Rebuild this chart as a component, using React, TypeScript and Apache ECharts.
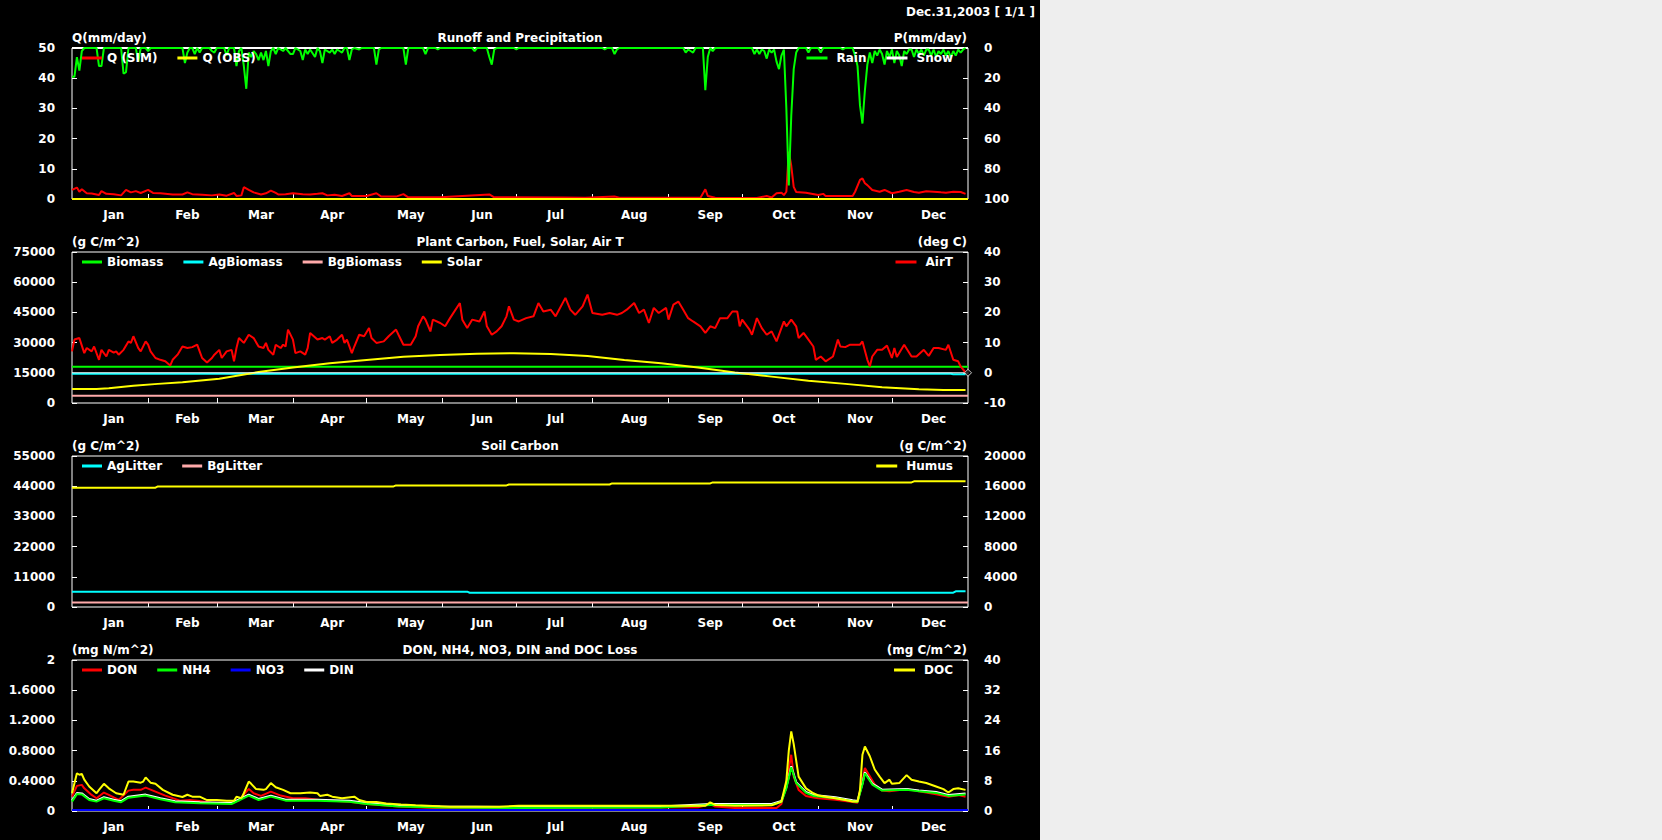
import React, { useEffect, useRef } from "react";
import * as echarts from "echarts";

const FONT = '"DejaVu Sans", "Liberation Sans", Arial, sans-serif';

// ---------- axis / label data ----------
const months = ["Jan", "Feb", "Mar", "Apr", "May", "Jun", "Jul", "Aug", "Sep", "Oct", "Nov", "Dec"];
const monthTickDays = [31, 59, 90, 120, 151, 181, 212, 243, 273, 304, 334];
const monthLabelDays = [17, 47, 77, 106, 138, 167, 197, 229, 260, 290, 321, 351];
const dayCategories = Array.from({ length: 366 }, (_, i) => String(i));

const headerText = "Dec.31,2003 [ 1/1 ]";
const panelTitles = [
  "Runoff and Precipitation",
  "Plant Carbon, Fuel, Solar, Air T",
  "Soil Carbon",
  "DON, NH4, NO3, DIN and DOC Loss",
];
const leftUnits = ["Q(mm/day)", "(g C/m^2)", "(g C/m^2)", "(mg N/m^2)"];
const rightUnits = ["P(mm/day)", "(deg C)", "(g C/m^2)", "(mg C/m^2)"];

// ---------- panel 1: runoff & precipitation ----------
const qSim: number[][] = [
  [0, 3.0], [2, 3.8], [3, 2.4], [4, 3.2], [6, 1.9], [8, 1.8], [11, 1.3], [12, 2.6], [14, 1.7], [17, 1.6],
  [20, 1.2], [22, 3.0], [24, 2.2], [26, 2.6], [28, 2.0], [31, 3.0], [33, 2.0], [36, 1.9], [41, 1.5], [45, 1.5],
  [47, 2.2], [49, 1.6], [53, 1.4], [57, 1.2], [60, 1.5], [63, 1.1], [66, 2.0], [67, 1.0], [69, 1.2], [70, 3.9],
  [72, 3.0], [74, 2.2], [77, 1.5], [79, 1.9], [81, 2.8], [83, 2.0], [84, 1.5], [87, 1.6], [90, 1.9], [94, 1.6],
  [97, 1.5], [100, 1.7], [102, 1.9], [104, 1.2], [107, 1.4], [110, 1.0], [113, 1.9], [114, 1.0], [120, 1.0],
  [124, 1.9], [126, 0.8], [132, 0.8], [135, 1.6], [137, 0.55], [150, 0.55], [170, 1.5], [172, 0.55], [200, 0.5],
  [209, 0.45], [221, 0.8], [223, 0.45], [250, 0.45], [256, 0.45], [258, 3.2], [259, 1.0], [262, 0.4], [279, 0.3],
  [283, 1.0], [285, 0.5], [287, 1.9], [289, 2.1], [290, 1.3], [291, 2.4], [292, 15.7], [293, 11.0], [294, 4.0],
  [295, 2.3], [299, 2.1], [304, 1.3], [306, 1.7], [307, 1.0], [318, 1.0], [319, 2.4], [321, 6.3], [322, 6.8],
  [323, 5.2], [324, 4.6], [326, 3.0], [329, 2.4], [331, 3.0], [334, 1.9], [337, 2.4], [340, 3.0], [343, 2.3],
  [345, 2.1], [348, 2.6], [351, 2.4], [354, 2.2], [356, 2.1], [359, 2.4], [362, 2.3], [364, 1.7],
];
const qObs: number[][] = [[0, 0], [365, 0]];
const rain: number[][] = [
  [0, 19], [1, 19], [2, 6], [3, 15], [4, 2], [5, 0], [10, 0], [11, 12], [12, 12], [13, 0], [20, 0], [21, 17],
  [22, 16], [23, 0], [26, 0], [27, 9], [28, 0], [30, 0], [31, 2], [32, 0], [45, 0], [46, 10], [47, 3], [48, 0],
  [49, 0], [50, 4], [51, 0], [52, 3], [53, 0], [56, 0], [57, 2], [58, 3], [59, 0], [62, 0], [63, 5], [64, 0],
  [66, 0], [67, 12], [68, 2], [69, 0], [70, 12], [71, 27], [72, 3], [73, 6], [74, 2], [75, 4], [76, 8], [77, 3],
  [78, 8], [79, 2], [80, 12], [81, 2], [82, 0], [83, 4], [84, 0], [86, 2], [87, 0], [89, 4], [90, 4], [91, 0],
  [93, 2], [94, 8], [95, 1], [96, 4], [97, 1], [99, 6], [100, 0], [101, 2], [102, 10], [103, 1], [105, 3],
  [106, 1], [107, 4], [108, 1], [109, 2], [110, 3], [111, 0], [112, 0], [113, 8], [114, 1], [115, 0], [117, 1],
  [118, 0], [123, 0], [124, 11], [125, 1], [126, 0], [135, 0], [136, 11], [137, 0], [143, 0], [144, 4], [145, 0],
  [148, 0], [149, 1], [150, 0], [163, 0], [164, 2], [165, 0], [169, 0], [170, 6], [171, 11], [172, 1], [173, 0],
  [180, 0], [181, 1], [182, 0], [216, 0], [217, 1], [218, 0], [220, 0], [221, 4], [222, 1], [223, 0], [249, 0],
  [250, 3], [251, 1], [252, 2], [253, 3], [254, 0], [257, 0], [258, 28], [259, 6], [260, 0], [261, 2], [262, 0],
  [277, 0], [278, 4], [279, 1], [280, 4], [281, 1], [282, 2], [283, 7], [284, 1], [285, 3], [286, 1], [287, 9],
  [288, 14], [289, 5], [290, 1], [291, 40], [292, 91], [293, 45], [294, 14], [295, 3], [296, 0], [299, 0],
  [300, 3], [301, 0], [304, 0], [305, 3], [306, 0], [313, 0], [314, 1], [315, 0], [318, 0], [319, 5], [320, 12],
  [321, 38], [322, 50], [323, 28], [324, 11], [325, 3], [326, 10], [327, 2], [328, 5], [329, 1], [330, 4],
  [331, 11], [332, 2], [333, 6], [334, 1], [335, 10], [336, 2], [337, 5], [338, 12], [339, 2], [340, 4], [341, 1],
  [342, 1], [343, 6], [344, 1], [345, 4], [346, 1], [347, 5], [348, 1], [349, 1], [350, 5], [351, 1], [352, 6],
  [353, 2], [354, 4], [355, 1], [356, 5], [357, 2], [358, 6], [359, 2], [360, 5], [361, 1], [362, 3], [363, 1],
  [364, 0],
];
const snow: number[][] = [[0, 0], [365, 0]];

// ---------- panel 2: plant carbon, solar, air T ----------
const biomass: number[][] = [[0, 18000], [365, 18000]];
const agBiomass: number[][] = [[0, 14530], [358, 14530], [359, 14300], [364, 14300]];
const bgBiomass: number[][] = [[0, 3650], [365, 3650]];
const solar: number[][] = [
  [0, 7000], [10, 7000], [15, 7300], [25, 8600], [35, 9500], [45, 10300], [60, 12000], [76, 15400], [90, 17600],
  [105, 19700], [120, 21400], [135, 23000], [150, 23900], [165, 24500], [180, 24700], [195, 24300], [210, 23400],
  [225, 21400], [240, 19700], [255, 17600], [270, 15100], [285, 13100], [300, 11100], [315, 9500], [330, 7800],
  [345, 6800], [355, 6500], [364, 6500],
];
const airZero: number[][] = [[0, 0], [365, 0]];
const airEndMarker: number[][] = [[365, 0]];
const airT: number[][] = [
  [0, 7.1], [1, 11], [3, 11.5], [5, 6.5], [6, 8.2], [8, 7.1], [9, 8.7], [11, 4.3], [12, 7.6], [14, 5.4], [15, 7.6],
  [17, 6.7], [18, 7.1], [19, 6.0], [21, 7.6], [23, 10.4], [24, 9.9], [25, 12.1], [27, 8.2], [28, 7.1], [30, 10.4],
  [31, 9.3], [32, 7.1], [34, 4.9], [36, 4.3], [38, 3.8], [40, 2.4], [41, 4.3], [43, 6.0], [45, 8.7], [47, 8.2],
  [49, 8.5], [51, 9.3], [52, 7.1], [53, 4.9], [55, 3.4], [57, 4.9], [58, 6.0], [60, 7.6], [61, 4.9], [63, 7.1],
  [65, 7.6], [66, 3.8], [67, 8.2], [68, 11.5], [70, 9.9], [72, 12.6], [74, 11.5], [76, 8.7], [78, 8.2], [79, 9.9],
  [80, 7.6], [82, 6.0], [83, 9.3], [85, 8.2], [86, 9.3], [87, 8.7], [88, 14.3], [90, 11.0], [91, 6.5], [93, 7.1],
  [95, 6.0], [96, 8.2], [97, 13.2], [100, 11.0], [102, 11.5], [103, 11.0], [105, 12.1], [106, 9.9], [108, 11.0],
  [110, 12.6], [111, 9.9], [112, 11.0], [114, 6.5], [115, 8.7], [117, 12.6], [119, 12.1], [121, 14.8],
  [122, 11.5], [124, 9.9], [127, 10.4], [129, 12.1], [132, 14.3], [133, 12.6], [135, 9.3], [138, 9.3],
  [140, 12.1], [141, 15.4], [143, 18.7], [144, 17.6], [146, 13.7], [147, 17.6], [150, 16.5], [152, 15.4],
  [154, 18.1], [158, 23.1], [159, 17.6], [161, 14.8], [163, 17.6], [166, 17.0], [168, 20.3], [169, 15.4],
  [171, 12.6], [173, 13.7], [175, 15.4], [177, 18.7], [178, 22.0], [180, 17.6], [182, 17.0], [185, 18.1],
  [188, 18.7], [190, 23.1], [192, 20.3], [195, 20.9], [197, 18.7], [201, 24.8], [203, 20.9], [205, 19.2],
  [208, 22.0], [210, 25.9], [212, 19.8], [216, 19.2], [219, 19.8], [222, 19.2], [224, 19.8], [226, 20.9],
  [229, 23.1], [231, 19.8], [233, 20.9], [235, 16.5], [237, 21.5], [239, 19.8], [242, 21.5], [243, 17.6],
  [245, 22.6], [247, 23.6], [249, 20.9], [251, 18.1], [253, 17.0], [256, 15.4], [258, 13.2], [260, 15.4],
  [262, 14.8], [264, 18.1], [267, 18.1], [269, 20.3], [271, 20.3], [272, 15.4], [273, 17.6], [276, 14.3],
  [277, 12.6], [279, 18.1], [281, 14.8], [283, 12.6], [285, 13.7], [287, 10.4], [290, 17.0], [291, 15.4],
  [293, 17.6], [295, 15.4], [296, 11.5], [298, 13.2], [300, 11.0], [302, 8.7], [303, 4.3], [305, 5.4],
  [307, 3.8], [310, 5.4], [312, 11.0], [313, 8.7], [315, 8.5], [317, 9.3], [321, 9.3], [322, 10.4], [324, 4.3],
  [325, 2.1], [326, 5.4], [328, 7.6], [330, 7.6], [332, 9.0], [334, 4.9], [335, 8.2], [336, 5.2], [339, 9.3],
  [342, 5.4], [344, 5.4], [347, 7.6], [349, 5.6], [351, 8.2], [353, 8.2], [356, 7.6], [357, 9.3], [359, 4.3],
  [361, 3.8], [362, 2.1], [364, 0.1],
];

// ---------- panel 3: soil carbon ----------
const agLitter: number[][] = [[0, 5600], [161, 5600], [162, 5200], [359, 5200], [360, 5700], [364, 5700]];
const bgLitter: number[][] = [[0, 1680], [365, 1680]];
const humus: number[][] = [
  [0, 15800], [34, 15800], [35, 15970], [131, 15970], [132, 16100], [177, 16100], [178, 16230], [219, 16230],
  [220, 16370], [260, 16370], [261, 16500], [342, 16500], [343, 16640], [364, 16640],
];

// ---------- panel 4: DON, NH4, NO3, DIN, DOC ----------
const don: number[][] = [
  [0, 0.19], [2, 0.333], [4, 0.346], [5, 0.3], [8, 0.213], [10, 0.169], [13, 0.244], [15, 0.213], [19, 0.146],
  [23, 0.27], [25, 0.28], [28, 0.28], [30, 0.31], [34, 0.257], [38, 0.204], [44, 0.137], [48, 0.146], [52, 0.133],
  [57, 0.11], [65, 0.11], [68, 0.137], [72, 0.293], [74, 0.235], [77, 0.2], [81, 0.257], [85, 0.204], [90, 0.169],
  [95, 0.169], [101, 0.146], [106, 0.137], [113, 0.124], [120, 0.093], [133, 0.058], [147, 0.04], [174, 0.035],
  [182, 0.04], [255, 0.05], [260, 0.09], [262, 0.06], [270, 0.04], [287, 0.04], [289, 0.093], [291, 0.37],
  [293, 0.745], [294, 0.456], [296, 0.28], [299, 0.2], [302, 0.18], [304, 0.17], [311, 0.15], [318, 0.12],
  [320, 0.11], [322, 0.41], [323, 0.57], [325, 0.46], [327, 0.35], [330, 0.27], [333, 0.26], [338, 0.28],
  [340, 0.29], [345, 0.26], [352, 0.22], [357, 0.19], [361, 0.21], [364, 0.19],
];
const nh4: number[][] = [
  [0, 0.124], [2, 0.224], [4, 0.22], [7, 0.146], [10, 0.124], [13, 0.169], [17, 0.137], [20, 0.117], [23, 0.177],
  [30, 0.204], [36, 0.155], [42, 0.117], [52, 0.102], [65, 0.093], [72, 0.204], [76, 0.146], [81, 0.19],
  [87, 0.137], [100, 0.137], [113, 0.124], [120, 0.093], [133, 0.058], [150, 0.045], [182, 0.04], [240, 0.045],
  [260, 0.08], [262, 0.08], [285, 0.08], [289, 0.12], [291, 0.3], [293, 0.58], [295, 0.37], [299, 0.24],
  [302, 0.2], [311, 0.17], [318, 0.13], [320, 0.12], [322, 0.35], [323, 0.5], [326, 0.35], [330, 0.27],
  [340, 0.28], [345, 0.26], [352, 0.24], [357, 0.2], [364, 0.22],
];
const no3: number[][] = [[0, 0.013], [365, 0.013]];
const din: number[][] = [
  [0, 0.137], [2, 0.237], [4, 0.233], [7, 0.159], [10, 0.137], [13, 0.182], [17, 0.15], [20, 0.13], [23, 0.19],
  [30, 0.217], [36, 0.168], [42, 0.13], [52, 0.115], [65, 0.106], [72, 0.217], [76, 0.159], [81, 0.203],
  [87, 0.15], [100, 0.15], [113, 0.137], [120, 0.106], [133, 0.071], [150, 0.058], [182, 0.053], [240, 0.058],
  [260, 0.093], [262, 0.093], [285, 0.093], [289, 0.133], [291, 0.313], [293, 0.593], [295, 0.383], [299, 0.253],
  [302, 0.213], [311, 0.183], [318, 0.143], [320, 0.133], [322, 0.363], [323, 0.513], [326, 0.363], [330, 0.283],
  [340, 0.293], [345, 0.273], [352, 0.253], [357, 0.213], [364, 0.233],
];
const doc: number[][] = [
  [0, 4.7], [2, 10.0], [3, 9.6], [4, 9.8], [5, 8.3], [7, 6.5], [10, 4.7], [11, 5.6], [13, 7.2], [15, 6.0],
  [18, 4.7], [21, 4.3], [23, 7.8], [25, 7.8], [28, 7.5], [29, 7.8], [30, 8.9], [32, 7.5], [34, 7.2], [37, 5.6],
  [41, 4.3], [45, 3.7], [47, 4.3], [49, 3.8], [52, 3.8], [55, 2.9], [59, 2.9], [63, 2.7], [66, 2.7], [67, 3.8],
  [69, 3.4], [70, 4.7], [72, 7.8], [73, 7.2], [75, 5.8], [78, 5.6], [79, 5.8], [81, 7.4], [83, 6.3], [86, 5.6],
  [89, 4.7], [93, 4.7], [97, 4.9], [100, 4.7], [101, 4.0], [104, 4.3], [106, 3.8], [110, 3.4], [115, 3.8],
  [117, 2.9], [120, 2.4], [124, 2.4], [128, 2.0], [134, 1.7], [140, 1.5], [147, 1.3], [154, 1.1], [174, 1.1],
  [182, 1.4], [258, 1.4], [260, 2.3], [262, 1.6], [270, 1.4], [285, 1.5], [289, 2.5], [291, 8.0], [292, 16.0],
  [293, 21.1], [294, 17.7], [296, 9.1], [299, 6.0], [302, 4.7], [304, 4.1], [307, 3.8], [311, 3.4], [315, 2.9],
  [318, 2.5], [320, 2.5], [321, 5.6], [322, 14.9], [323, 17.1], [325, 14.5], [327, 11.0], [329, 9.1],
  [331, 7.4], [333, 8.3], [334, 7.2], [337, 7.4], [340, 9.5], [342, 8.3], [345, 7.8], [348, 7.4], [352, 6.5],
  [355, 5.8], [357, 4.9], [359, 5.8], [361, 6.0], [364, 5.6],
];

// ---------- axis ranges ----------
const leftRanges = [
  { min: 0, max: 50, interval: 10 },
  { min: 0, max: 75000, interval: 15000 },
  { min: 0, max: 55000, interval: 11000 },
  { min: 0, max: 2, interval: 0.4 },
];
const rightRanges = [
  { min: 0, max: 100, interval: 20, inverse: true },
  { min: -10, max: 40, interval: 10, inverse: false },
  { min: 0, max: 20000, interval: 4000, inverse: false },
  { min: 0, max: 40, interval: 8, inverse: false },
];

const GRID_TOPS = [48, 252, 456, 660];
const GRID_LEFT = 72;
const GRID_W = 896;
const GRID_H = 151;

const txt = { color: "#fff", fontSize: 12, fontWeight: "bold" as const, fontFamily: FONT };

function buildOption() {
  const grid = GRID_TOPS.map((top) => ({
    left: GRID_LEFT,
    top,
    width: GRID_W,
    height: GRID_H,
    show: true,
    borderColor: "#fff",
    borderWidth: 1,
    backgroundColor: "transparent",
    containLabel: false,
  }));

  const xAxis = GRID_TOPS.map((_, i) => ({
    type: "category",
    gridIndex: i,
    data: dayCategories,
    boundaryGap: false,
    axisLine: { show: false },
    axisTick: {
      show: true,
      inside: true,
      length: 5,
      interval: (idx: number) => monthTickDays.includes(idx),
      lineStyle: { color: "#fff", width: 1 },
    },
    axisLabel: {
      ...txt,
      margin: 10,
      interval: (idx: number) => monthLabelDays.includes(idx),
      formatter: (v: string) => {
        const k = monthLabelDays.indexOf(Number(v));
        return k >= 0 ? months[k] : "";
      },
    },
    splitLine: { show: false },
  }));

  const yAxis: any[] = [];
  GRID_TOPS.forEach((_, i) => {
    const l = leftRanges[i];
    const r = rightRanges[i];
    yAxis.push({
      type: "value",
      gridIndex: i,
      position: "left",
      min: l.min,
      max: l.max,
      interval: l.interval,
      axisLine: { show: false },
      axisTick: { show: true, inside: true, length: 5, lineStyle: { color: "#fff" } },
      axisLabel: {
        ...txt,
        margin: 17,
        formatter: (v: number) => {
          if (i === 3) return v === 0 || Math.abs(v - 2) < 1e-9 ? String(Math.round(v)) : v.toFixed(4);
          return String(Math.round(v));
        },
      },
      splitLine: { show: false },
    });
    yAxis.push({
      type: "value",
      gridIndex: i,
      position: "right",
      min: r.min,
      max: r.max,
      interval: r.interval,
      inverse: r.inverse,
      axisLine: { show: false },
      axisTick: { show: true, inside: true, length: 5, lineStyle: { color: "#fff" } },
      axisLabel: { ...txt, margin: 16, formatter: (v: number) => String(Math.round(v)) },
      splitLine: { show: false },
    });
  });

  const mk = (name: string, data: number[][], color: string, panel: number, right: boolean, width = 2) => ({
    name,
    type: "line",
    xAxisIndex: panel,
    yAxisIndex: panel * 2 + (right ? 1 : 0),
    data,
    symbol: "none",
    showSymbol: false,
    clip: false,
    color,
    lineStyle: { color, width },
    emphasis: { disabled: true },
    silent: true,
  });

  const series: any[] = [
    mk("Q (SIM)", qSim, "#ff0000", 0, false),
    mk("Q (OBS)", qObs, "#ffff00", 0, false),
    mk("Snow", snow, "#ffffff", 0, true),
    mk("Rain", rain, "#00ff00", 0, true),

    mk("Biomass", biomass, "#00ff00", 1, false),
    mk("AgBiomass", agBiomass, "#00ffff", 1, false),
    mk("BgBiomass", bgBiomass, "#ffaaaa", 1, false),
    mk("Solar", solar, "#ffff00", 1, false),
    mk("zeroT", airZero, "#ffffff", 1, true, 1),
    mk("AirT", airT, "#ff0000", 1, true),
    {
      name: "endMark",
      type: "scatter",
      xAxisIndex: 1,
      yAxisIndex: 3,
      data: airEndMarker,
      symbol: "diamond",
      symbolSize: 7,
      clip: false,
      silent: true,
      z: 5,
      itemStyle: { color: "#000", borderColor: "#fff", borderWidth: 1 },
    },

    mk("AgLitter", agLitter, "#00ffff", 2, false),
    mk("BgLitter", bgLitter, "#ffaaaa", 2, false),
    mk("Humus", humus, "#ffff00", 2, true),

    mk("DON", don, "#ff0000", 3, false),
    mk("DIN", din, "#ffffff", 3, false),
    mk("NH4", nh4, "#00ff00", 3, false),
    mk("NO3", no3, "#0000ff", 3, false),
    mk("DOC", doc, "#ffff00", 3, true),
  ];

  const legendBase = {
    orient: "horizontal",
    icon: "rect",
    itemWidth: 20,
    itemHeight: 3,
    itemGap: 20,
    padding: 0,
    selectedMode: false,
    textStyle: { ...txt },
  };
  const leftLegendData = [["Q (SIM)", "Q (OBS)"], ["Biomass", "AgBiomass", "BgBiomass", "Solar"], ["AgLitter", "BgLitter"], ["DON", "NH4", "NO3", "DIN"]];
  const rightLegendData = [["Rain", "Snow"], ["AirT"], ["Humus"], ["DOC"]];
  const legend: any[] = [];
  GRID_TOPS.forEach((top, i) => {
    legend.push({ ...legendBase, left: 82, top: top + 4, data: leftLegendData[i] });
    legend.push({
      ...legendBase,
      itemWidth: 21,
      right: 87,
      top: top + 4,
      data: rightLegendData[i],
      textStyle: { ...txt, padding: [0, 0, 0, 4] },
    });
  });

  const textEl = (text: string, x: number, y: number, align: string) => ({
    type: "text",
    x,
    y,
    silent: true,
    style: {
      text,
      fill: "#fff",
      font: `bold 12px ${FONT}`,
      textAlign: align,
      textVerticalAlign: "middle",
      align,
      verticalAlign: "middle",
    },
  });
  const elements: any[] = [textEl(headerText, 1035, 12, "right")];
  GRID_TOPS.forEach((top, i) => {
    elements.push(textEl(panelTitles[i], GRID_LEFT + GRID_W / 2, top - 10, "center"));
    elements.push(textEl(leftUnits[i], GRID_LEFT, top - 10, "left"));
    elements.push(textEl(rightUnits[i], GRID_LEFT + GRID_W - 1, top - 10, "right"));
  });

  return {
    animation: false,
    backgroundColor: "#000000",
    grid,
    xAxis,
    yAxis,
    legend,
    series,
    graphic: { elements },
  };
}

export default function App() {
  const ref = useRef<HTMLDivElement>(null);
  useEffect(() => {
    document.body.style.margin = "0";
    document.body.style.background = "#eeeeee";
    if (!ref.current) return;
    const chart = echarts.init(ref.current, null, { renderer: "svg" });
    chart.setOption(buildOption() as any);
    return () => chart.dispose();
  }, []);
  return (
    <div style={{ width: 1662, height: 840, background: "#eeeeee", overflow: "hidden" }}>
      <div ref={ref} style={{ width: 1040, height: 840, background: "#000" }} />
    </div>
  );
}
